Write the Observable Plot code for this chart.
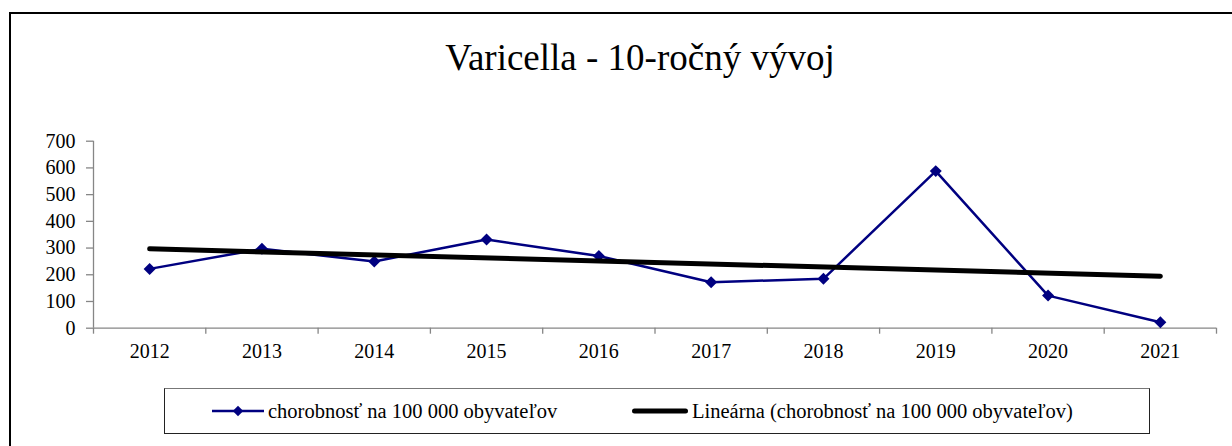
<!DOCTYPE html>
<html>
<head>
<meta charset="utf-8">
<script src="https://cdn.jsdelivr.net/npm/d3@7"></script>
<script src="https://cdn.jsdelivr.net/npm/@observablehq/plot@0.6"></script>
<style>
  html, body { margin: 0; padding: 0; background: #fff; overflow: hidden; }
  body { width: 1232px; height: 446px; position: relative; font-family: "Liberation Serif", "Times New Roman", serif; }
  #frameTop { position: absolute; left: 9px; top: 12px; width: 1200px; height: 2px; background: #000; }
  #frameTop2 { position: absolute; left: 1209px; top: 12px; width: 23px; height: 2px; background: #000; }
  #frameLeft { position: absolute; left: 9px; top: 12px; width: 2px; height: 434px; background: #000; }
  #title { position: absolute; left: 0; width: 1280px; top: 39px; text-align: center; font-size: 37px; color: #000; line-height: 1; font-family: "Liberation Serif", "Times New Roman", serif; }
  #chart { position: absolute; left: 0; top: 120px; width: 1232px; overflow: hidden; }
  #legend { position: absolute; left: 164px; top: 388px; width: 986px; height: 46px; border: 1px solid #222; border-top-color: #777; box-sizing: border-box; font-size: 20.5px; font-family: "Liberation Serif", "Times New Roman", serif; }
  .item { position: absolute; top: 0; height: 44px; display: flex; align-items: center; white-space: nowrap; }
  .item svg { display: block; }
</style>
</head>
<body>
<div id="frameTop"></div>
<div id="frameTop2"></div>
<div id="frameLeft"></div>
<div id="title"></div>
<div id="chart"></div>
<div id="legend"></div>
<script>
const titleText = "Varicella - 10-ročný vývoj";
const years = [2012, 2013, 2014, 2015, 2016, 2017, 2018, 2019, 2020, 2021];
const values = [222, 297, 250, 332, 270, 172, 185, 588, 122, 22];
const yTicks = [0, 100, 200, 300, 400, 500, 600, 700];
const seriesName = "chorobnosť na 100 000 obyvateľov";
const trendName = "Lineárna (chorobnosť na 100 000 obyvateľov)";

const data = years.map((year, i) => ({year, value: values[i]}));
const boundaries = d3.range(years[0] - 0.5, years[years.length - 1] + 1, 1);

document.getElementById("title").textContent = titleText;

const axisGray = "#868686";
const chart = Plot.plot({
  width: 1232,
  height: 250,
  marginLeft: 93,
  marginRight: 16,
  marginTop: 20.7,
  marginBottom: 42.3,
  style: {fontFamily: "Liberation Serif, Times New Roman, serif", fontSize: "20px", color: "#000", background: "transparent"},
  x: {type: "linear", domain: [boundaries[0], boundaries[boundaries.length - 1]], label: null},
  y: {domain: [0, 700], label: null},
  marks: [
    Plot.ruleY([0], {stroke: axisGray, strokeWidth: 1.3}),
    Plot.ruleX([boundaries[0]], {y1: 0, y2: 700, stroke: axisGray, strokeWidth: 1.3}),
    Plot.axisX({ticks: boundaries, tickFormat: () => "", tickSize: 6, stroke: axisGray, strokeWidth: 1.3, label: null}),
    Plot.axisX({ticks: years, tickFormat: d => String(d), tickSize: 0, tickPadding: 16, fill: "#000", label: null}),
    Plot.axisY({ticks: yTicks, tickFormat: d => String(d), tickSize: 7, tickPadding: 11, stroke: axisGray, strokeWidth: 1.3, fill: "#000", label: null}),
    Plot.line(data, {x: "year", y: "value", stroke: "#000080", strokeWidth: 2.5}),
    Plot.dot(data, {x: "year", y: "value", symbol: "diamond2", r: 5.4, fill: "#000080", stroke: "none"}),
    Plot.linearRegressionY(data, {x: "year", y: "value", stroke: "#000", strokeWidth: 5, ci: 0, strokeLinecap: "round"})
  ]
});
document.getElementById("chart").appendChild(chart);

// Legend
const legend = document.getElementById("legend");
function addItem(left, swatch, label) {
  const item = document.createElement("div");
  item.className = "item";
  item.style.left = left + "px";
  item.appendChild(swatch);
  const span = document.createElement("span");
  span.textContent = label;
  span.style.marginLeft = "4px";
  item.appendChild(span);
  legend.appendChild(item);
}
function lineSwatch(w, color, sw, marker) {
  const s = d3.create("svg").attr("width", w).attr("height", 16);
  s.append("line").attr("x1", marker ? 0 : 2.5).attr("x2", marker ? w : w - 2.5).attr("y1", 8).attr("y2", 8)
    .attr("stroke", color).attr("stroke-width", sw).attr("stroke-linecap", marker ? "butt" : "round");
  if (marker) {
    s.append("path").attr("d", d3.symbol(d3.symbolDiamond2, 70)()).attr("transform", `translate(${w/2},8)`).attr("fill", color);
  }
  return s.node();
}
addItem(47, lineSwatch(52, "#000080", 2.5, true), seriesName);
addItem(467, lineSwatch(56, "#000", 5, false), trendName);
</script>
</body>
</html>
